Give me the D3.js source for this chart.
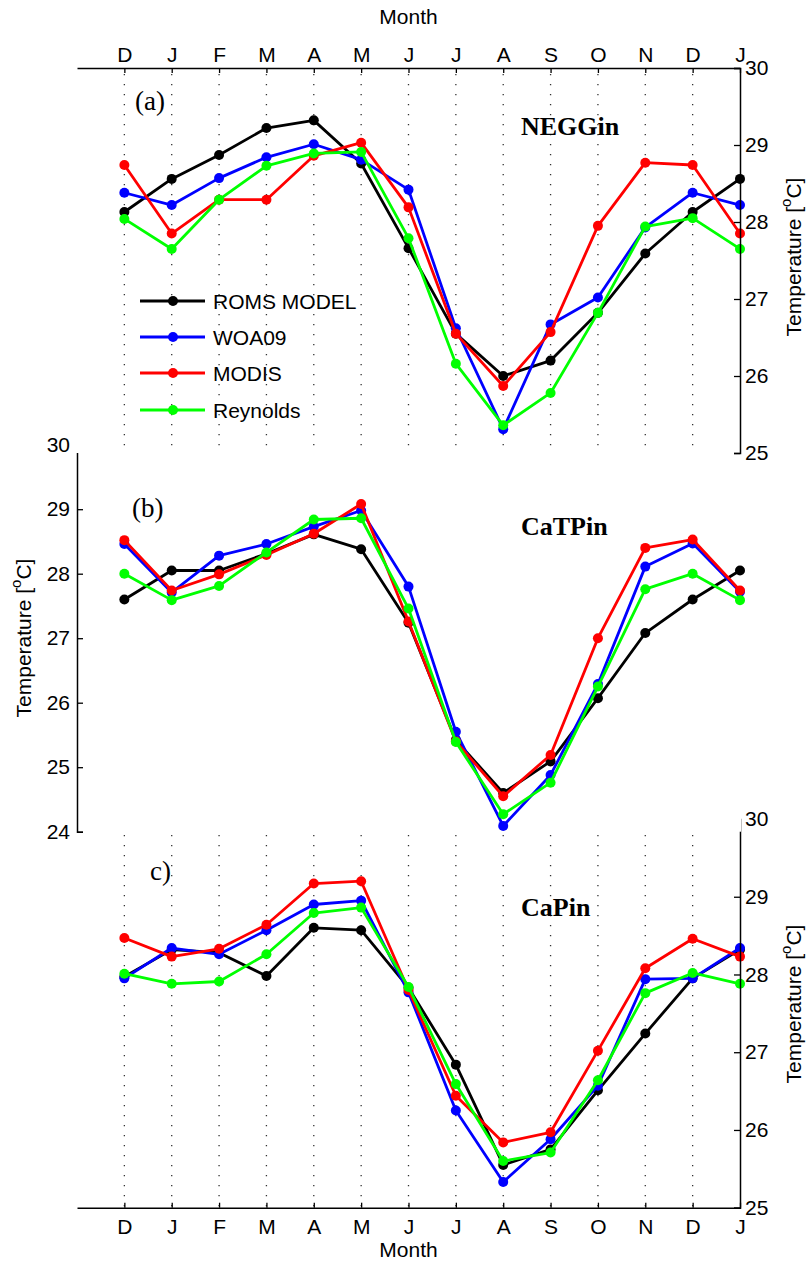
<!DOCTYPE html>
<html>
<head>
<meta charset="utf-8">
<script src="https://cdn.jsdelivr.net/npm/d3@7"></script>
<style>
  body { margin: 0; background: #fff; }
  svg { display: block; font-family: "Liberation Sans", Arial, Helvetica, sans-serif; }
</style>
</head>
<body>
<div id="chart"></div>
<script>
// month labels (Dec of previous year .. Jan of next year)
const months = ["D","J","F","M","A","M","J","J","A","S","O","N","D","J"];

const seriesNames = ["ROMS MODEL", "WOA09", "MODIS", "Reynolds"];
const seriesColors = ["#000000", "#0000ff", "#ff0000", "#00ff00"];

// (a) NEGGin
const neggin_roms     = [28.13, 28.56, 28.87, 29.22, 29.32, 28.76, 27.66, 26.55, 26.00, 26.20, 26.82, 27.59, 28.13, 28.56];
const neggin_woa      = [28.38, 28.22, 28.57, 28.84, 29.01, 28.81, 28.42, 26.62, 25.31, 26.67, 27.02, 27.93, 28.38, 28.22];
const neggin_modis    = [28.74, 27.85, 28.29, 28.29, 28.86, 29.03, 28.19, 26.55, 25.87, 26.57, 27.95, 28.77, 28.74, 27.85];
const neggin_reynolds = [28.04, 27.65, 28.29, 28.73, 28.89, 28.91, 27.79, 26.16, 25.36, 25.78, 26.82, 27.94, 28.05, 27.65];

// (b) CaTPin
const catpin_roms     = [27.60, 28.05, 28.05, 28.31, 28.61, 28.38, 27.24, 25.42, 24.60, 25.09, 26.07, 27.08, 27.60, 28.05];
const catpin_woa      = [28.46, 27.71, 28.28, 28.46, 28.73, 28.98, 27.80, 25.55, 24.09, 24.88, 26.29, 28.11, 28.47, 27.72];
const catpin_modis    = [28.52, 27.74, 27.99, 28.29, 28.62, 29.08, 27.26, 25.40, 24.55, 25.19, 27.00, 28.40, 28.53, 27.74];
const catpin_reynolds = [28.00, 27.59, 27.81, 28.33, 28.84, 28.86, 27.46, 25.39, 24.27, 24.76, 26.25, 27.76, 28.00, 27.59];

// (c) CaPin
const capin_roms     = [27.97, 28.32, 28.28, 27.98, 28.60, 28.57, 27.83, 26.84, 25.55, 25.75, 26.51, 27.24, 27.95, 28.32];
const capin_woa      = [27.95, 28.34, 28.26, 28.57, 28.90, 28.95, 27.77, 26.25, 25.33, 25.88, 26.57, 27.94, 27.95, 28.34];
const capin_modis    = [28.47, 28.23, 28.33, 28.64, 29.17, 29.20, 27.80, 26.44, 25.84, 25.97, 27.02, 28.08, 28.46, 28.23];
const capin_reynolds = [28.01, 27.88, 27.91, 28.26, 28.79, 28.86, 27.84, 26.59, 25.60, 25.71, 26.64, 27.76, 28.02, 27.88];

const ticksA = [25, 26, 27, 28, 29, 30];
const ticksB = [24, 25, 26, 27, 28, 29, 30];
const ticksC = [25, 26, 27, 28, 29, 30];

const width = 808, height = 1262;
const svg = d3.select("#chart").append("svg")
  .attr("width", width)
  .attr("height", height);

const x = d3.scaleLinear().domain([-1, 13]).range([77, 740]);
const monthIdx = d3.range(months.length);

const panels = {
  a: { y: d3.scaleLinear().domain([25, 30]).range([453, 68]), ticks: ticksA,
       data: [neggin_roms, neggin_woa, neggin_modis, neggin_reynolds],
       letter: "(a)", letterX: 135, letterY: 110, title: "NEGGin", titleY: 135,
       axis: "right", grid: true, xAxis: "top", labelCy: 257 },
  b: { y: d3.scaleLinear().domain([24, 30]).range([831.7, 444.7]), ticks: ticksB,
       data: [catpin_roms, catpin_woa, catpin_modis, catpin_reynolds],
       letter: "(b)", letterX: 132, letterY: 517, title: "CaTPin", titleY: 535,
       axis: "left", grid: false, xAxis: null, labelCy: 638 },
  c: { y: d3.scaleLinear().domain([25, 30]).range([1207.7, 819]), ticks: ticksC,
       data: [capin_roms, capin_woa, capin_modis, capin_reynolds],
       letter: "c)", letterX: 150, letterY: 880, title: "CaPin", titleY: 916,
       axis: "right", grid: true, xAxis: "bottom", labelCy: 1004 }
};

function drawPanel(p) {
  const g = svg.append("g");
  const y = p.y;
  const [y0, y1] = y.range();

  // white box so the panel hides whatever is behind it
  g.append("rect")
    .attr("x", 76).attr("y", y1)
    .attr("width", 665).attr("height", y0 - y1)
    .attr("fill", "#fff");

  // dotted month grid
  if (p.grid) {
    g.selectAll(".grid")
      .data(monthIdx.slice(0, months.length - 1))
      .join("line")
        .attr("x1", d => x(d)).attr("x2", d => x(d))
        .attr("y1", y1 + 6).attr("y2", y0)
        .attr("stroke", "#333")
        .attr("stroke-width", 1.3)
        .attr("stroke-dasharray", "1.3,8.7");
  }

  // series lines + markers
  p.data.forEach((vals, i) => {
    const pts = vals.map((v, k) => [k, v]);
    g.append("path")
      .datum(pts)
      .attr("fill", "none")
      .attr("stroke", seriesColors[i])
      .attr("stroke-width", 2.8)
      .attr("stroke-linejoin", "round")
      .attr("d", d3.line().x(d => x(d[0])).y(d => y(d[1])));
    g.selectAll(null)
      .data(pts)
      .join("circle")
        .attr("cx", d => x(d[0]))
        .attr("cy", d => y(d[1]))
        .attr("r", 5)
        .attr("fill", seriesColors[i]);
  });

  // y axis
  if (p.axis === "right") {
    const ax = g.append("g")
      .attr("transform", `translate(${x(13)},0)`)
      .call(d3.axisRight(y).tickValues(p.ticks).tickFormat(d3.format("d"))
        .tickSizeInner(-6).tickSizeOuter(-6).tickPadding(5));
    styleAxis(ax);
    ax.selectAll("text").attr("text-anchor", "start");
    yLabel(g, 795, p.labelCy);
  } else {
    const ax = g.append("g")
      .attr("transform", `translate(${x(-1)},0)`)
      .call(d3.axisLeft(y).tickValues(p.ticks).tickFormat(d3.format("d"))
        .tickSizeInner(-6).tickSizeOuter(-6).tickPadding(7));
    styleAxis(ax);
    yLabel(g, 25, p.labelCy);
  }

  // x axis
  if (p.xAxis === "top") {
    const ax = g.append("g")
      .attr("transform", `translate(0,${y1})`)
      .call(d3.axisTop(x).tickValues(monthIdx).tickFormat(d => months[d])
        .tickSizeInner(-5).tickSizeOuter(0).tickPadding(6));
    styleAxis(ax);
    g.append("text")
      .attr("x", x(6)).attr("y", 24)
      .attr("text-anchor", "middle")
      .attr("font-size", 21)
      .text("Month");
  } else if (p.xAxis === "bottom") {
    const ax = g.append("g")
      .attr("transform", `translate(0,${y0})`)
      .call(d3.axisBottom(x).tickValues(monthIdx).tickFormat(d => months[d])
        .tickSizeInner(-5).tickSizeOuter(0).tickPadding(11));
    styleAxis(ax);
    g.append("text")
      .attr("x", x(6)).attr("y", 1257)
      .attr("text-anchor", "middle")
      .attr("font-size", 21)
      .text("Month");
  }

  // panel letter and region name
  g.append("text")
    .attr("x", p.letterX).attr("y", p.letterY)
    .attr("font-family", "'Liberation Serif', 'Times New Roman', serif")
    .attr("font-size", 27)
    .text(p.letter);
  g.append("text")
    .attr("x", 521).attr("y", p.titleY)
    .attr("font-family", "'Liberation Serif', 'Times New Roman', serif")
    .attr("font-weight", "bold")
    .attr("font-size", 26)
    .text(p.title);

  return g;
}

function styleAxis(ax) {
  ax.selectAll(".domain").attr("stroke", "#000").attr("stroke-width", 1.5);
  ax.selectAll(".tick line").attr("stroke", "#000").attr("stroke-width", 1.3);
  ax.selectAll("text")
    .attr("font-family", "'Liberation Sans', Arial, Helvetica, sans-serif")
    .attr("font-size", 21)
    .attr("fill", "#000");
}

function yLabel(g, cx, cy) {
  const t = g.append("text")
    .attr("transform", `translate(${cx},${cy}) rotate(-90)`)
    .attr("text-anchor", "middle")
    .attr("dominant-baseline", "middle")
    .attr("font-size", 21);
  t.append("tspan").text("Temperature [");
  t.append("tspan").attr("font-size", 15).attr("dy", -8).text("o");
  t.append("tspan").attr("dy", 8).text("C]");
}

// bottom panel first, so upper panels sit on top of it
drawPanel(panels.c);
drawPanel(panels.b);
const gA = drawPanel(panels.a);

// legend in panel (a)
const legendY = [301, 337, 373, 410];
const leg = gA.append("g");
seriesNames.forEach((name, i) => {
  leg.append("line")
    .attr("x1", 140).attr("x2", 205)
    .attr("y1", legendY[i]).attr("y2", legendY[i])
    .attr("stroke", seriesColors[i]).attr("stroke-width", 2.8);
  leg.append("circle")
    .attr("cx", 173).attr("cy", legendY[i]).attr("r", 5)
    .attr("fill", seriesColors[i]);
  leg.append("text")
    .attr("x", 213).attr("y", legendY[i] + 7.5)
    .attr("font-size", 21)
    .text(name);
});
</script>
</body>
</html>
